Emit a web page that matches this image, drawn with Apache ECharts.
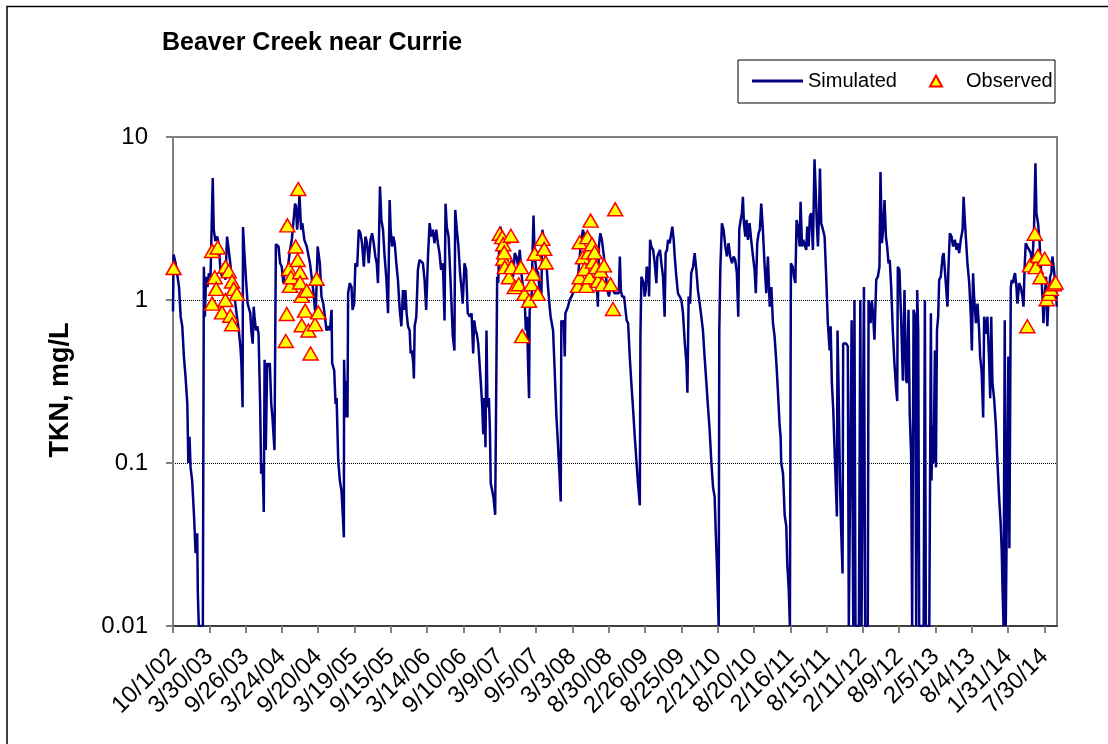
<!DOCTYPE html>
<html>
<head>
<meta charset="utf-8">
<title>Beaver Creek near Currie</title>
<script src="https://cdn.jsdelivr.net/npm/echarts@6/dist/echarts.min.js"></script>
<style>
  html, body { margin: 0; padding: 0; background: #fff; }
  #main { width: 1108px; height: 744px; }
</style>
</head>
<body>
<div id="main"></div>
<script>
// x values are day counts from 10/1/2002, axis ends 9/30/2014
const startDate = Date.UTC(2002, 9, 1);
const endDay = 4382;

const tickLabels = ['10/1/02', '3/30/03', '9/26/03', '3/24/04', '9/20/04', '3/19/05', '9/15/05',
    '3/14/06', '9/10/06', '3/9/07', '9/5/07', '3/3/08', '8/30/08', '2/26/09', '8/25/09',
    '2/21/10', '8/20/10', '2/16/11', '8/15/11', '2/11/12', '8/9/12', '2/5/13', '8/4/13',
    '1/31/14', '7/30/14'];

// simulated TKN (mg/L), values at the axis floor are drawn as 0.01
const simDays = [
    0, 3, 13, 30, 38, 46, 54, 62, 71, 76,
    82, 87, 95, 104, 112, 120, 123, 128, 148, 153,
    158, 164, 171, 178, 186, 197, 202, 210, 219, 227,
    235, 243, 252, 260, 268, 276, 284, 293, 301, 309,
    317, 326, 334, 339, 345, 347, 355, 362, 370, 378,
    383, 388, 395, 400, 404, 411, 418, 424, 432, 437,
    444, 450, 454, 460, 467, 473, 480, 487, 493, 503,
    510, 523, 531, 539, 547, 556, 564, 572, 580, 589,
    597, 605, 610, 615, 621, 627, 635, 641, 651, 663,
    671, 679, 687, 695, 707, 717, 728, 736, 745, 753,
    761, 769, 778, 786, 789, 799, 806, 811, 819, 827,
    835, 842, 847, 848, 855, 860, 865, 868, 876, 885,
    890, 898, 904, 913, 921, 929, 937, 946, 954, 962,
    970, 979, 987, 995, 1003, 1010, 1016, 1021, 1026, 1033,
    1041, 1049, 1058, 1066, 1074, 1079, 1086, 1092, 1099, 1107,
    1115, 1124, 1132, 1140, 1145, 1152, 1158, 1165, 1173, 1178,
    1184, 1191, 1194, 1198, 1206, 1214, 1222, 1231, 1239, 1247,
    1255, 1264, 1272, 1280, 1288, 1296, 1305, 1313, 1321, 1329,
    1338, 1346, 1351, 1357, 1366, 1372, 1379, 1387, 1395, 1399,
    1407, 1415, 1423, 1431, 1436, 1445, 1453, 1461, 1472, 1480,
    1488, 1493, 1500, 1506, 1513, 1521, 1526, 1533, 1538, 1543,
    1549, 1554, 1559, 1566, 1571, 1575, 1582, 1589, 1597, 1600,
    1604, 1607, 1612, 1617, 1623, 1632, 1641, 1648, 1658, 1669,
    1678, 1686, 1694, 1702, 1711, 1719, 1727, 1735, 1744, 1749,
    1755, 1760, 1765, 1768, 1777, 1782, 1787, 1793, 1801, 1810,
    1818, 1826, 1831, 1838, 1843, 1851, 1859, 1867, 1872, 1879,
    1884, 1892, 1900, 1909, 1915, 1922, 1925, 1930, 1937, 1942,
    1945, 1950, 1958, 1966, 1975, 1983, 1991, 1999, 2008, 2016,
    2024, 2032, 2040, 2049, 2057, 2065, 2073, 2082, 2090, 2098,
    2106, 2111, 2118, 2126, 2136, 2143, 2153, 2161, 2169, 2181,
    2189, 2198, 2210, 2215, 2220, 2226, 2236, 2243, 2249, 2256,
    2264, 2272, 2281, 2289, 2297, 2305, 2314, 2317, 2322, 2328,
    2333, 2338, 2343, 2348, 2355, 2360, 2365, 2371, 2380, 2388,
    2396, 2401, 2408, 2414, 2421, 2429, 2437, 2442, 2449, 2454,
    2462, 2470, 2475, 2482, 2487, 2495, 2503, 2512, 2520, 2528,
    2536, 2545, 2550, 2556, 2563, 2569, 2578, 2586, 2594, 2602,
    2611, 2619, 2627, 2635, 2644, 2652, 2660, 2668, 2677, 2685,
    2690, 2696, 2701, 2705, 2708, 2713, 2721, 2729, 2738, 2746,
    2754, 2762, 2771, 2779, 2787, 2795, 2802, 2807, 2814, 2820,
    2825, 2830, 2837, 2843, 2850, 2858, 2866, 2875, 2883, 2889,
    2896, 2903, 2909, 2916, 2924, 2932, 2941, 2949, 2958, 2966,
    2974, 2982, 2991, 2999, 3007, 3012, 3015, 3024, 3032, 3040,
    3045, 3052, 3058, 3063, 3072, 3078, 3085, 3091, 3098, 3106,
    3111, 3118, 3124, 3131, 3139, 3144, 3151, 3157, 3164, 3172,
    3180, 3185, 3192, 3197, 3202, 3207, 3213, 3222, 3230, 3238,
    3246, 3255, 3260, 3266, 3273, 3279, 3286, 3291, 3294, 3299,
    3306, 3312, 3319, 3322, 3329, 3337, 3345, 3350, 3359, 3364,
    3369, 3372, 3375, 3378, 3383, 3400, 3407, 3413, 3420, 3425,
    3431, 3444, 3448, 3454, 3458, 3464, 3471, 3477, 3486, 3494,
    3502, 3507, 3514, 3520, 3527, 3534, 3540, 3547, 3553, 3560,
    3568, 3576, 3585, 3590, 3593, 3601, 3609, 3618, 3626, 3634,
    3639, 3646, 3652, 3659, 3664, 3671, 3679, 3684, 3689, 3694,
    3699, 3721, 3727, 3732, 3749, 3757, 3760, 3765, 3770, 3777,
    3782, 3787, 3793, 3798, 3806, 3815, 3820, 3826, 3831, 3839,
    3844, 3851, 3859, 3867, 3876, 3884, 3889, 3897, 3905, 3914,
    3919, 3925, 3932, 3938, 3947, 3955, 3960, 3966, 3971, 3980,
    3988, 3996, 4001, 4008, 4013, 4016, 4021, 4029, 4037, 4046,
    4051, 4056, 4062, 4070, 4079, 4087, 4095, 4103, 4108, 4112,
    4117, 4123, 4128, 4136, 4141, 4146, 4153, 4158, 4164, 4169,
    4174, 4181, 4186, 4194, 4202, 4211, 4216, 4221, 4227, 4235,
    4244, 4252, 4260, 4268, 4275, 4280, 4288, 4295, 4301, 4310,
    4315, 4321, 4328, 4334, 4341, 4348, 4354, 4359, 4367, 4375,
    4381
];
const simValues = [
    0.85, 1.9, 1.68, 1.2, 0.79, 0.69, 0.45, 0.34, 0.23, 0.1,
    0.145, 0.094, 0.078, 0.048, 0.028, 0.037, 0.016, 0.01, 0.01, 1.6,
    0.79, 1.39, 1.2, 1.46, 1.39, 5.6, 2.7, 2.3, 2.45, 2.2,
    1.53, 1.39, 1.68, 1.33, 2.45, 2.45, 1.68, 1.27, 1.15, 0.95,
    0.79, 0.65, 0.52, 0.41, 0.22, 2.8, 1.85, 1.33, 0.95, 0.95,
    0.83, 0.65, 0.54, 0.91, 0.79, 0.65, 0.69, 0.62, 0.23, 0.086,
    0.1, 0.05, 0.43, 0.12, 0.41, 0.39, 0.41, 0.23, 0.19, 0.12,
    2.2, 2.13, 1.68, 1.6, 1.27, 1.53, 1.46, 1.68, 2.03, 2.34,
    2.34, 3.9, 3.75, 2.7, 3.25, 4.4, 2.7, 2.96, 2.34, 2.13,
    2.13, 1.68, 1.39, 1.15, 0.79, 2.13, 1.68, 1.05, 0.95, 0.79,
    0.65, 0.69, 0.65, 0.87, 0.41, 0.37, 0.23, 0.25, 0.104, 0.078,
    0.068, 0.047, 0.035, 0.43, 0.19, 0.32, 0.19, 1.1, 1.27, 1.2,
    0.87, 0.95, 1.68, 1.6, 2.7, 2.57, 2.23, 1.6, 2.45, 2.23,
    1.68, 2.34, 2.57, 2.23, 1.85, 1.68, 1.27, 2.34, 4.97, 3.1,
    2.7, 1.85, 1.33, 0.83, 4.1, 2.7, 2.13, 2.45, 2.23, 1.68,
    1.33, 0.87, 0.69, 1.15, 0.87, 1.15, 0.83, 0.69, 0.65, 0.47,
    0.49, 0.41, 0.33, 0.69, 0.79, 1.53, 1.76, 1.76, 1.68, 1.33,
    0.87, 1.85, 2.96, 2.45, 2.7, 2.23, 2.7, 2.23, 1.94, 1.53,
    1.68, 0.75, 3.9, 2.82, 2.45, 1.68, 1.05, 0.6, 0.49, 3.57,
    2.7, 2.13, 1.46, 1.15, 0.95, 1.68, 1.53, 0.83, 0.79, 0.83,
    0.47, 0.75, 0.65, 0.62, 0.54, 0.54, 0.31, 0.22, 0.15, 0.25,
    0.125, 0.65, 0.22, 0.25, 0.16, 0.075, 0.068, 0.061, 0.048, 0.049,
    0.52, 1.39, 1.27, 2.13, 2.82, 2.45, 1.94, 2.03, 1.68, 1.53,
    1.76, 1.39, 1.94, 1.85, 1.6, 2.03, 1.46, 1.2, 0.95, 0.65,
    0.79, 0.41, 0.25, 0.87, 0.95, 1.85, 3.3, 1.85, 1.53, 1.46,
    1.1, 1.05, 2.7, 2.34, 2.03, 1.68, 1.2, 0.91, 0.79, 0.79,
    0.65, 0.37, 0.2, 0.125, 0.09, 0.058, 0.75, 0.72, 0.75, 0.45,
    0.83, 0.83, 0.91, 1.0, 1.05, 1.1, 1.2, 1.2, 1.39, 1.85,
    2.34, 2.7, 2.45, 2.23, 2.34, 2.45, 2.03, 1.76, 1.68, 1.53,
    0.91, 2.13, 2.57, 2.34, 1.85, 1.53, 1.15, 1.05, 1.2, 1.15,
    1.1, 1.1, 1.1, 1.85, 1.15, 1.05, 1.05, 0.87, 0.75, 0.72,
    0.45, 0.31, 0.21, 0.145, 0.104, 0.075, 0.055, 0.6, 1.39, 1.39,
    1.27, 1.05, 1.15, 1.6, 1.53, 1.05, 2.34, 2.13, 2.03, 1.68,
    1.27, 1.85, 1.94, 2.03, 1.68, 1.39, 0.79, 1.94, 2.03, 2.34,
    2.23, 2.57, 2.82, 2.34, 1.85, 1.39, 1.1, 1.05, 1.0, 0.83,
    0.57, 0.41, 0.27, 1.05, 0.95, 1.46, 1.6, 1.94, 1.53, 1.15,
    0.95, 0.79, 0.65, 0.45, 0.31, 0.22, 0.16, 0.104, 0.071, 0.062,
    0.039, 0.024, 0.015, 0.01, 0.65, 1.53, 2.96, 2.7, 2.13, 1.85,
    2.23, 1.85, 1.68, 1.85, 1.76, 1.46, 0.79, 2.7, 3.1, 3.4,
    4.3, 2.96, 2.45, 3.1, 2.34, 2.96, 2.34, 1.85, 1.53, 1.1,
    2.23, 2.57, 2.7, 3.9, 2.7, 1.68, 1.1, 1.85, 0.91, 1.2,
    0.72, 0.6, 0.41, 0.27, 0.17, 0.145, 0.1, 0.086, 0.048, 0.041,
    0.024, 0.017, 0.01, 1.68, 1.6, 1.39, 1.27, 3.1, 2.82, 2.13,
    4.0, 2.13, 2.34, 2.34, 2.03, 2.82, 2.13, 3.25, 3.4, 2.03,
    7.3, 5.0, 2.82, 2.13, 3.25, 6.4, 2.96, 2.7, 2.45, 1.39,
    0.72, 0.49, 0.69, 0.31, 0.21, 0.125, 0.071, 0.047, 0.65, 0.31,
    0.078, 0.039, 0.021, 0.54, 0.54, 0.54, 0.52, 0.01, 0.01, 0.75,
    0.75, 0.01, 0.01, 1.0, 0.01, 0.01, 1.0, 0.01, 0.01, 1.2,
    0.01, 0.01, 1.0, 1.0, 0.72, 1.0, 0.79, 0.57, 1.33, 1.39,
    1.6, 6.1, 2.23, 2.7, 4.1, 2.45, 2.13, 1.68, 1.76, 1.2,
    0.65, 0.41, 0.28, 0.24, 1.6, 1.53, 0.79, 0.32, 1.15, 0.32,
    0.31, 0.87, 0.2, 0.11, 0.01, 0.87, 0.79, 0.01, 1.15, 0.65,
    0.01, 0.01, 1.0, 0.01, 0.01, 0.83, 0.078, 0.17, 0.1, 0.49,
    0.094, 0.65, 0.79, 1.33, 1.39, 1.85, 1.94, 1.53, 1.27, 0.91,
    1.6, 2.57, 2.45, 2.13, 2.34, 2.03, 2.23, 1.94, 2.34, 2.7,
    4.3, 3.1, 2.23, 1.68, 1.27, 0.79, 0.49, 1.46, 1.05, 0.72,
    0.95, 0.65, 0.45, 0.37, 0.25, 0.19, 0.79, 0.62, 0.79, 0.41,
    0.25, 0.79, 0.31, 0.25, 0.17, 0.1, 0.062, 0.042, 0.029, 0.017,
    0.01, 0.75, 0.01, 0.01, 0.45, 0.03, 1.2, 1.33, 1.27, 1.39,
    1.46, 1.2, 0.95, 1.27, 1.2, 1.05, 0.91, 1.53, 2.23, 2.13,
    2.03, 1.94, 1.68, 2.7, 6.9, 3.4, 2.96, 2.34, 1.68, 1.05,
    0.72, 1.05, 1.39, 0.69, 1.05, 1.39, 1.46, 1.85, 1.53, 1.2,
    0.91
];

// observed TKN samples (mg/L)
const obsDays = [
    3,
    194, 194, 207, 214, 222, 243, 260, 260, 276, 284, 293, 293, 301, 317,
    559, 564, 567, 575, 580, 585, 608, 618, 621, 630, 630, 638, 638, 655, 663, 671, 682, 704, 712, 720,
    1620, 1632, 1637, 1637, 1642, 1645, 1665, 1675, 1678, 1694, 1714, 1724, 1731, 1742, 1765, 1777,
    1785, 1793, 1808, 1831, 1840, 1847,
    2008, 2016, 2016, 2032, 2040, 2049, 2054, 2060, 2065, 2070, 2077, 2082, 2090, 2098, 2106, 2120,
    2128, 2136, 2169, 2181, 2192,
    4235, 4248, 4272, 4277, 4288, 4300, 4321, 4331, 4343, 4351, 4367, 4375
];
const obsValues = [
    1.57,
    2.0, 0.95, 1.38, 1.17, 2.1, 0.84, 1.6, 1.0, 1.5, 0.8, 1.3, 0.71, 1.17, 1.09,
    0.56, 0.82, 2.87, 1.55, 1.22, 1.38, 2.13, 1.76, 4.8, 1.48, 1.28, 1.06, 0.7, 0.86, 1.14, 0.65, 0.47, 0.71, 1.35, 0.84,
    2.55, 2.43, 2.2, 1.79, 1.96, 1.59, 1.38, 2.48, 1.59, 1.2, 1.25, 1.59, 0.6, 1.09, 0.99, 1.25,
    1.45, 1.92, 1.09, 2.37, 2.06, 1.7,
    1.22, 2.26, 1.38, 1.83, 1.55, 1.22, 2.43, 1.96, 1.38, 3.07, 2.2, 1.72, 1.96, 1.59, 1.31, 1.51,
    1.25, 1.63, 1.25, 0.88, 3.6,
    0.69, 1.63, 2.55, 1.59, 1.87, 1.38, 1.79, 1.01, 1.09, 1.17, 1.25, 1.28
];

function dayOf(label) {
    const p = label.split('/');
    return Math.round((Date.UTC(2000 + Number(p[2]), Number(p[0]) - 1, Number(p[1])) - startDate) / 86400000);
}
const tickDays = tickLabels.map(dayOf);

if (simDays.length !== simValues.length || obsDays.length !== obsValues.length) {
    console.log('data length mismatch', simDays.length, simValues.length, obsDays.length, obsValues.length);
}

const simData = simDays.map((d, i) => [d, simValues[i]]);
const obsData = obsDays.map((d, i) => [d, obsValues[i]]);

const font = 'Liberation Sans, Arial, sans-serif';
const chart = echarts.init(document.getElementById('main'));

const option = {
    backgroundColor: '#ffffff',
    animation: false,
    title: {
        text: 'Beaver Creek near Currie',
        left: 162,
        top: 31,
        padding: 0,
        textStyle: { fontFamily: font, fontSize: 25, fontWeight: 'bold', color: '#000' }
    },
    legend: [
        {
            data: ['Simulated'],
            left: 752,
            top: 71,
            padding: 0,
            itemWidth: 51,
            itemHeight: 3,
            icon: 'rect',
            itemStyle: { borderWidth: 0 },
            textStyle: { fontFamily: font, fontSize: 20, color: '#000' }
        },
        {
            data: ['Observed'],
            left: 929,
            top: 71,
            padding: 0,
            itemWidth: 12,
            itemHeight: 11,
            icon: 'triangle',
            textStyle: { fontFamily: font, fontSize: 20, color: '#000', padding: [0, 0, 0, 19] }
        }
    ],
    grid: {
        left: 173,
        right: 51,
        top: 137,
        bottom: 118,
        show: true,
        backgroundColor: 'transparent',
        borderColor: '#808080',
        borderWidth: 2
    },
    xAxis: {
        type: 'value',
        min: 0,
        max: endDay,
        interval: 180,
        axisLine: { lineStyle: { color: '#404040', width: 2 } },
        axisTick: { customValues: tickDays, length: 7, lineStyle: { color: '#808080', width: 2 } },
        axisLabel: {
            customValues: tickDays,
            rotate: 45,
            margin: 27,
            fontFamily: font,
            fontSize: 24,
            color: '#000',
            formatter: v => tickLabels[tickDays.indexOf(v)] || ''
        },
        splitLine: { show: false }
    },
    yAxis: {
        type: 'log',
        logBase: 10,
        min: 0.01,
        max: 10,
        axisLine: { show: true, lineStyle: { color: '#808080', width: 2 } },
        axisTick: { show: true, length: 7, lineStyle: { color: '#808080', width: 2 } },
        axisLabel: { margin: 25, fontFamily: font, fontSize: 24, color: '#000' },
        splitLine: {
            show: true,
            showMinLine: false,
            showMaxLine: false,
            lineStyle: { color: '#000', type: 'dotted', width: 1 }
        }
    },
    graphic: [
        // outer chart frame
        { type: 'rect', shape: { x: 7, y: 6.5, width: 1200, height: 900 },
          style: { fill: 'none', stroke: '#000', lineWidth: 1.5 }, silent: true },
        // legend frame
        { type: 'rect', shape: { x: 738, y: 60, width: 317, height: 43 },
          style: { fill: 'none', stroke: '#000', lineWidth: 1 }, silent: true },
        // y-axis title
        { type: 'text', x: 61, y: 390, rotation: Math.PI / 2,
          style: { text: 'TKN, mg/L', font: 'bold 27px ' + font, fill: '#000', align: 'center', verticalAlign: 'middle' } }
    ],
    series: [
        {
            name: 'Simulated',
            type: 'line',
            data: simData,
            showSymbol: false,
            symbol: 'none',
            color: '#000080',
            itemStyle: { color: '#000080' },
            lineStyle: { color: '#000080', width: 2.5 },
            z: 2
        },
        {
            name: 'Observed',
            type: 'scatter',
            data: obsData,
            symbol: 'triangle',
            symbolSize: [15, 13],
            itemStyle: { color: '#ffff00', borderColor: '#ff0000', borderWidth: 1.5, opacity: 1 },
            z: 3
        }
    ]
};

chart.setOption(option);
</script>
</body>
</html>
